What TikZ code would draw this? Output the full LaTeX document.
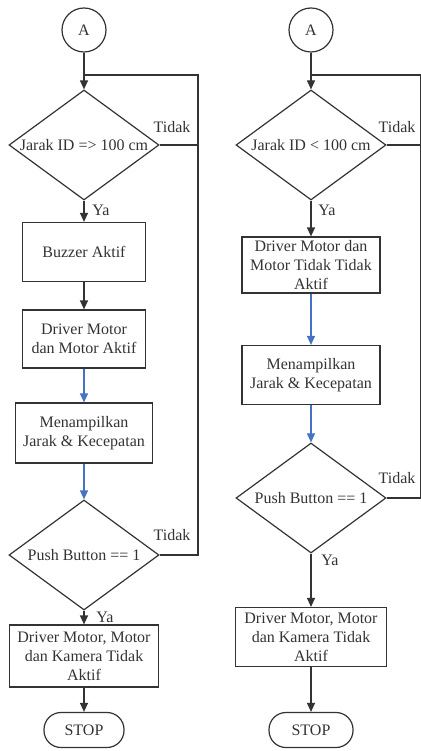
\documentclass[tikz,border=0pt]{standalone}
\usepackage{fontspec}
\setmainfont{Liberation Serif}
\usetikzlibrary{shapes.geometric,arrows.meta}
\definecolor{garis}{HTML}{333333}
\definecolor{biru}{HTML}{4472C4}
\tikzset{
  proses/.style={draw, rectangle, align=center, inner sep=0pt},
  keputusan/.style={draw, diamond, aspect=1.36, inner sep=0pt, minimum width=150pt, minimum height=110pt},
  konektor/.style={draw, circle, minimum size=44pt, inner sep=0pt},
  terminal/.style={draw, rectangle, rounded corners=17pt, minimum height=35pt, inner sep=0pt},
  panah/.style={-{Triangle[length=9pt,width=8pt]}},
  panahbiru/.style={panah, draw=biru},
}
\begin{document}
\begin{tikzpicture}[x=1pt,y=-1pt,color=garis,line width=1.2pt,font=\fontsize{16}{19}\selectfont]
\useasboundingbox (0,0) rectangle (420,751);
% 左側のフロー
\node[konektor] (a1) at (84,30) {A};
\node[keputusan] (d1) at (84,145) {Jarak ID => 100 cm};
\node[proses, minimum width=123pt, minimum height=59pt] (b1) at (84,252) {Buzzer Aktif};
\node[proses, minimum width=123pt, minimum height=58pt] (b2) at (84,339) {Driver Motor\\dan Motor Aktif};
\node[proses, minimum width=137pt, minimum height=60pt] (b3) at (84,433) {Menampilkan\\Jarak \& Kecepatan};
\node[keputusan] (d2) at (84,555) {Push Button == 1};
\node[proses, minimum width=149pt, minimum height=62pt] (b4) at (84,656) {Driver Motor, Motor\\dan Kamera Tidak\\Aktif};
\node[terminal, minimum width=80pt] (s1) at (84,730) {STOP};

\node (t1) at (172,127) {Tidak};
\node (y1) at (101,210) {Ya};
\node (t2) at (172,535) {Tidak};
\node (y2) at (105,617) {Ya};

\draw[panah] (a1) -- (d1);
\draw[panah] (d1) -- (b1);
\draw[panah] (b1) -- (b2);
\draw[panahbiru] (b2) -- (b3);
\draw[panahbiru] (b3) -- (d2);
\draw[panah] (d2) -- (b4);
\draw[panah] (b4) -- (s1);

\coordinate (k1) at (198,75);
\draw (d2.east) -| (k1) -- (a1 |- k1);
\draw (d1.east) -- (d1.east -| k1);

% 右側のフロー
\node[konektor] (a2) at (311,30) {A};
\node[keputusan] (d3) at (311,145) {Jarak ID < 100 cm};
\node[proses, minimum width=138pt, minimum height=56pt] (c1) at (311,265) {Driver Motor dan\\Motor Tidak Tidak\\Aktif};
\node[proses, minimum width=138pt, minimum height=59pt] (c2) at (311,375) {Menampilkan\\Jarak \& Kecepatan};
\node[keputusan] (d4) at (311,498) {Push Button == 1};
\node[proses, minimum width=151pt, minimum height=59pt] (c3) at (311,637) {Driver Motor, Motor\\dan Kamera Tidak\\Aktif};
\node[terminal, minimum width=84pt] (s2) at (311,730) {STOP};

\node (t3) at (397,127) {Tidak};
\node (y3) at (327,210) {Ya};
\node (t4) at (397,478) {Tidak};
\node (y4) at (330,560) {Ya};

\draw[panah] (a2) -- (d3);
\draw[panah] (d3) -- (c1);
\draw[panahbiru] (c1) -- (c2);
\draw[panahbiru] (c2) -- (d4);
\draw[panah] (d4) -- (c3);
\draw[panah] (c3) -- (s2);

\coordinate (k2) at (420.4,75);
\draw (d4.east) -| (k2) -- (a2 |- k2);
\draw (d3.east) -- (d3.east -| k2);
\end{tikzpicture}
\end{document}
